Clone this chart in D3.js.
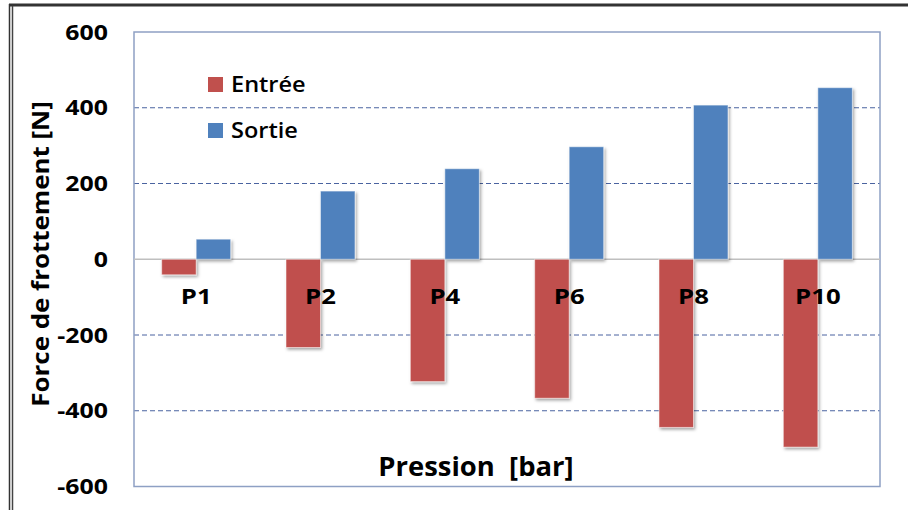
<!DOCTYPE html>
<html>
<head>
<meta charset="utf-8">
<script src="https://cdn.jsdelivr.net/npm/d3@7"></script>
<style>
  html, body { margin: 0; padding: 0; background: #fff; }
  svg { display: block; font-family: "Open Sans", Lato, sans-serif; }
</style>
</head>
<body>
<svg id="chart" width="908" height="510"></svg>
<script>
// Pressure levels and friction forces (N) on entry / exit stroke
const categories = ["P1", "P2", "P4", "P6", "P8", "P10"];
const seriesNames = ["Entrée", "Sortie"];
const entree = [-41, -233, -323, -367, -444, -496];
const sortie = [53, 180, 239, 297, 407, 453];
const yTicks = [-600, -400, -200, 0, 200, 400, 600];
const colors = ["#C0504D", "#4F81BD"];

const svg = d3.select("#chart");
const W = 908, H = 510;
const plot = { left: 134, right: 880, top: 32, bottom: 486.5 };

// drop shadow for the bars
const defs = svg.append("defs");
const f = defs.append("filter").attr("id", "shadow")
  .attr("x", "-20%").attr("y", "-20%").attr("width", "150%").attr("height", "150%");
f.append("feDropShadow").attr("dx", 1.5).attr("dy", 2).attr("stdDeviation", 1.5)
  .attr("flood-color", "#000").attr("flood-opacity", 0.35);

// outer frame
svg.append("line").attr("x1", 9).attr("x2", W).attr("y1", 5).attr("y2", 5)
  .attr("stroke", "#333").attr("stroke-width", 3);
svg.append("line").attr("x1", 9.5).attr("x2", 9.5).attr("y1", 4).attr("y2", H)
  .attr("stroke", "#333").attr("stroke-width", 1.5);
svg.append("line").attr("x1", 12.5).attr("x2", 12.5).attr("y1", 6).attr("y2", H)
  .attr("stroke", "#444").attr("stroke-width", 1.5);

const y = d3.scaleLinear().domain([-600, 600]).range([plot.bottom, plot.top]);
const x0 = d3.scaleBand().domain(categories).range([plot.left, plot.right])
  .paddingInner(0.445).paddingOuter(0.2225);
const x1 = d3.scaleBand().domain(seriesNames).range([0, x0.bandwidth()]);

// dashed gridlines
const grid = svg.append("g");
grid.selectAll("line").data(yTicks.filter(d => d !== 0 && Math.abs(d) !== 600)).join("line")
  .attr("x1", plot.left).attr("x2", plot.right)
  .attr("y1", d => y(d)).attr("y2", d => y(d))
  .attr("stroke", "#4A63A0").attr("stroke-width", 1)
  .attr("stroke-dasharray", "5,3");

// plot border
svg.append("rect").attr("x", plot.left).attr("y", plot.top)
  .attr("width", plot.right - plot.left).attr("height", plot.bottom - plot.top)
  .attr("fill", "none").attr("stroke", "#8EA0C4").attr("stroke-width", 1.5);

// zero line
svg.append("line").attr("x1", plot.left).attr("x2", plot.right)
  .attr("y1", y(0)).attr("y2", y(0)).attr("stroke", "#BFBFBF").attr("stroke-width", 1.5);

// bars
const rows = categories.map((c, i) => ({ cat: c, vals: [entree[i], sortie[i]] }));
const groups = svg.append("g").selectAll("g").data(rows).join("g")
  .attr("transform", d => `translate(${x0(d.cat)},0)`);
groups.selectAll("rect").data(d => d.vals.map((v, j) => ({ key: seriesNames[j], v, j }))).join("rect")
  .attr("x", d => x1(d.key))
  .attr("width", x1.bandwidth())
  .attr("y", d => y(Math.max(0, d.v)))
  .attr("height", d => Math.abs(y(d.v) - y(0)))
  .attr("fill", d => colors[d.j])
  .attr("stroke", "#ffffff").attr("stroke-opacity", 0.5).attr("stroke-width", 1)
  .attr("filter", "url(#shadow)");

// category labels (slightly widened glyphs)
svg.append("g").selectAll("text").data(categories).join("text")
  .attr("transform", d => `translate(${x0(d) + x0.bandwidth() / 2},304) scale(1.17,1)`)
  .attr("text-anchor", "middle")
  .attr("font-size", 22).attr("font-weight", "bold")
  .attr("fill", "#000")
  .text(d => d);

// y axis tick labels
const yAxis = d3.axisLeft(y).tickValues(yTicks).tickSize(0).tickPadding(0)
  .tickFormat(d => String(d));
const ya = svg.append("g").attr("transform", "translate(108,0)").call(yAxis);
ya.select(".domain").remove();
ya.selectAll("text").attr("font-size", 22).attr("font-weight", "bold")
  .attr("transform", "scale(1.13,1)")
  .attr("font-family", "'Open Sans', sans-serif").attr("fill", "#000");

// axis titles
svg.append("text").attr("transform", "translate(49,254) rotate(-90) scale(1.08,1)")
  .attr("text-anchor", "middle").attr("font-size", 24).attr("font-weight", "bold")
  .attr("fill", "#000").text("Force de frottement [N]");
svg.append("text").attr("transform", "translate(476,476) scale(1.055,1)")
  .attr("text-anchor", "middle").attr("font-size", 26).attr("font-weight", "bold")
  .attr("fill", "#000").attr("xml:space", "preserve").text("Pression  [bar]");

// legend
const legend = svg.append("g").selectAll("g").data(seriesNames).join("g")
  .attr("transform", (d, i) => `translate(208,${77 + i * 46})`);
legend.append("rect").attr("width", 15).attr("height", 15)
  .attr("fill", (d, i) => colors[i]);
legend.append("text").attr("transform", "translate(23,15) scale(1.07,1)")
  .attr("font-size", 22).attr("font-weight", 600)
  .attr("fill", "#000")
  .text(d => d);
</script>
</body>
</html>
